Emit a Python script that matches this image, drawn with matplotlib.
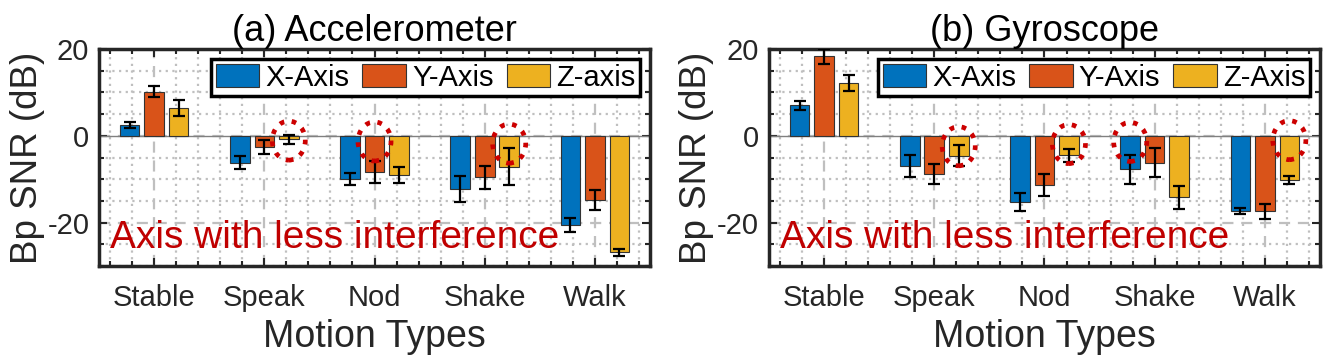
import numpy as np
import matplotlib
matplotlib.use('Agg')
import matplotlib.pyplot as plt
from matplotlib.patches import Ellipse
from matplotlib.ticker import MultipleLocator

plt.rcParams['font.family'] = ['Liberation Sans', 'DejaVu Sans']
plt.rcParams['axes.unicode_minus'] = False

# данные
motions = ['Stable', 'Speak', 'Nod', 'Shake', 'Walk']

acc_x = [2.5, -6.2, -9.9, -12.2, -20.6]
acc_y = [10.2, -2.5, -8.3, -9.6, -14.8]
acc_z = [6.4, -0.8, -9.0, -7.1, -26.8]
acc_x_err = [0.7, 1.5, 1.4, 3.0, 1.6]
acc_y_err = [1.2, 1.6, 2.6, 2.7, 2.4]
acc_z_err = [1.8, 1.1, 1.8, 4.2, 0.8]

gyr_x = [7.0, -7.0, -15.3, -7.7, -17.3]
gyr_y = [18.3, -8.7, -11.3, -6.2, -17.4]
gyr_z = [12.1, -4.6, -4.5, -14.2, -10.2]
gyr_x_err = [1.0, 2.5, 2.1, 3.3, 0.7]
gyr_y_err = [1.8, 2.3, 2.5, 3.4, 1.7]
gyr_z_err = [1.8, 2.4, 1.5, 2.6, 1.0]

acc_labels = ['X-Axis', 'Y-Axis', 'Z-axis']
gyr_labels = ['X-Axis', 'Y-Axis', 'Z-Axis']

# отмеченные столбцы: (категория, ось, центр круга по y)
acc_marks = [(1, 2, -1.1), (2, 1, -1.3), (3, 2, -1.8)]
gyr_marks = [(1, 2, -2.4), (2, 2, -1.9), (3, 0, -1.4), (4, 2, -1.0)]

colors = ['#0072BD', '#D95319', '#EDB120']
red = '#C00000'
dark = '#262626'

fig = plt.figure(figsize=(13.29, 3.59), dpi=100)
ax1 = fig.add_axes([0.0745, 0.259, 0.4146, 0.6045])
ax2 = fig.add_axes([0.5786, 0.259, 0.4146, 0.6045])

x = np.arange(1, len(motions) + 1)
offs = [-0.222, 0.0, 0.222]
bw = 0.178


def draw(ax, vals, errs, labels, marks, title):
    for i in range(3):
        ax.bar(x + offs[i], vals[i], bw, color=colors[i], edgecolor='#333333',
               linewidth=0.8, label=labels[i], zorder=3)
        ax.errorbar(x + offs[i], vals[i], yerr=errs[i], fmt='none', ecolor='black',
                    elinewidth=1.6, capsize=4, capthick=1.6, zorder=4)
    ax.axhline(0, color='#808080', lw=1.0, zorder=2)

    for c, s, yc in marks:
        ax.add_patch(Ellipse((x[c] + offs[s], yc), 0.30, 9.0, fill=False,
                             edgecolor='#CC0000', lw=3.4, ls=(0, (1, 1.6)), zorder=5))

    ax.set_xlim(0.5, 5.5)
    ax.set_ylim(-30, 20)
    ax.set_xticks(x)
    ax.set_xticklabels(motions)
    ax.set_yticks([-20, 0, 20])
    ax.xaxis.set_minor_locator(MultipleLocator(0.2))
    ax.yaxis.set_minor_locator(MultipleLocator(5))
    ax.set_axisbelow(True)
    ax.grid(which='major', ls=(0, (5, 3.5)), color='#bfbfbf', lw=1.6)
    ax.grid(which='minor', ls=(0, (1, 2)), color='#bfbfbf', lw=1.6)
    ax.tick_params(which='both', direction='in', top=True, right=True,
                   labelsize=21, colors=dark, width=1.5)
    ax.tick_params(axis='x', which='major', length=6, pad=13)
    ax.tick_params(axis='y', which='major', length=6, pad=7)
    ax.tick_params(which='minor', length=3.5)
    for sp in ax.spines.values():
        sp.set_linewidth(2.5)
        sp.set_color(dark)

    ax.set_title(title, fontsize=26, pad=6)
    ax.set_xlabel('Motion Types', fontsize=27, color=dark, labelpad=5)
    ax.set_ylabel('Bp SNR (dB)', fontsize=26.5, color=dark, labelpad=2)
    ax.text(0.02, -23.5, 'Axis with less interference', color=red, fontsize=28,
            va='center', ha='left', transform=ax.get_yaxis_transform(), zorder=6)

    leg = ax.legend(ncol=3, loc='upper right', fontsize=21, frameon=True, fancybox=False,
                    framealpha=1, edgecolor='black', borderpad=0.15, handlelength=1.5,
                    handleheight=0.8, columnspacing=0.45, handletextpad=0.2,
                    borderaxespad=0.35)
    leg.get_frame().set_linewidth(2.5)
    leg.set_zorder(7)


draw(ax1, [acc_x, acc_y, acc_z], [acc_x_err, acc_y_err, acc_z_err],
     acc_labels, acc_marks, '(a) Accelerometer')
draw(ax2, [gyr_x, gyr_y, gyr_z], [gyr_x_err, gyr_y_err, gyr_z_err],
     gyr_labels, gyr_marks, '(b) Gyroscope')

fig.savefig('out.png', dpi=100)
